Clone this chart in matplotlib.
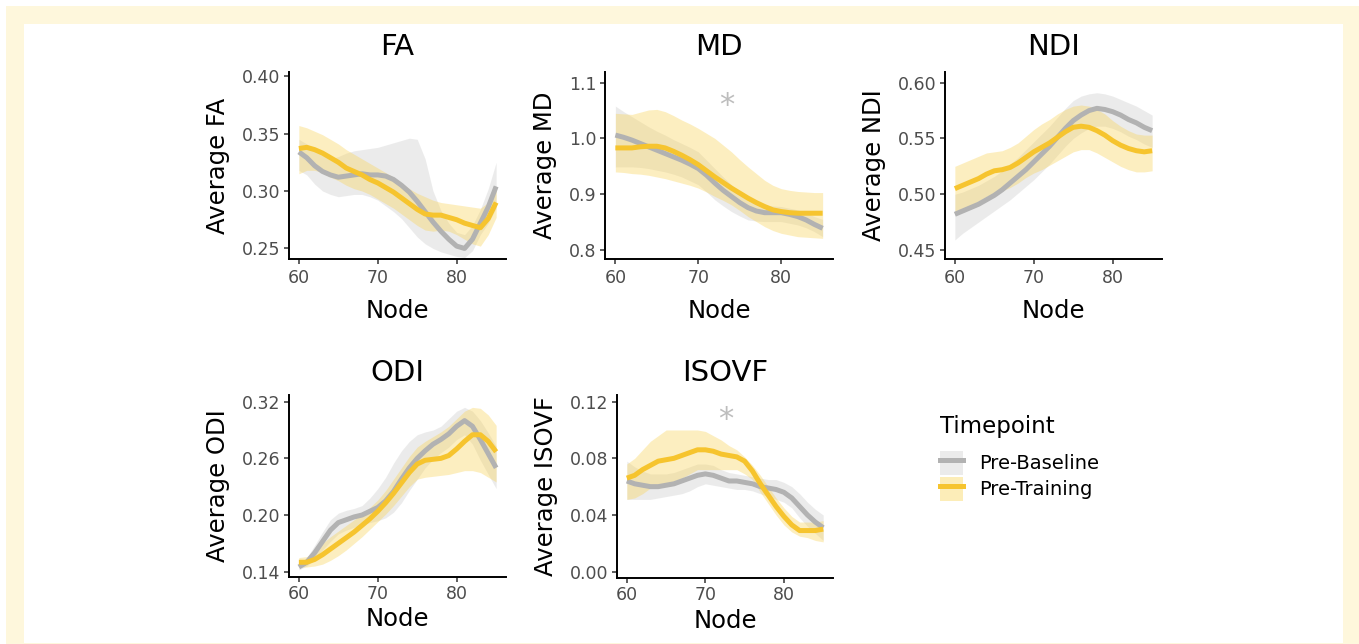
import numpy as np
import matplotlib
matplotlib.use("Agg")
import matplotlib.pyplot as plt
from matplotlib.patches import Rectangle, Patch
from matplotlib.lines import Line2D
from matplotlib.legend_handler import HandlerTuple

plt.rcParams['font.family'] = ['DejaVu Sans']

nodes = list(range(60, 86))

# FA
fa_base = [.334, .329, .322, .317, .314, .312, .313, .314, .315, .314, .314, .313, .310,
           .305, .299, .291, .282, .273, .265, .258, .252, .250, .258, .272, .286, .304]
fa_base_hi = [.345, .341, .336, .331, .328, .330, .333, .335, .336, .337, .338, .340, .342,
              .344, .346, .345, .328, .300, .283, .272, .264, .262, .270, .284, .302, .325]
fa_base_lo = [.318, .314, .306, .300, .297, .295, .296, .297, .297, .295, .292, .287, .282,
              .276, .268, .260, .254, .250, .247, .245, .243, .242, .248, .262, .272, .285]
fa_train = [.337, .338, .336, .333, .329, .325, .320, .317, .314, .310, .307, .303, .299,
            .294, .289, .284, .280, .279, .279, .277, .275, .272, .270, .268, .276, .290]
fa_train_hi = [.357, .355, .352, .349, .345, .341, .336, .332, .328, .324, .320, .316, .312,
               .307, .302, .298, .295, .292, .290, .289, .288, .287, .286, .285, .290, .303]
fa_train_lo = [.315, .318, .318, .316, .312, .309, .305, .302, .300, .297, .293, .289, .285,
               .280, .275, .270, .266, .265, .266, .265, .262, .258, .254, .252, .262, .277]

# MD
md_base = [1.006, 1.002, .997, .991, .985, .979, .973, .967, .961, .954, .946, .934, .920,
           .907, .896, .885, .876, .870, .867, .867, .867, .864, .860, .854, .846, .839]
md_base_hi = [1.058, 1.048, 1.039, 1.030, 1.021, 1.013, 1.006, .998, .991, .984, .976, .961, .946,
              .931, .917, .904, .893, .886, .881, .879, .878, .875, .872, .867, .860, .855]
md_base_lo = [.949, .949, .949, .948, .946, .943, .940, .936, .931, .924, .917, .904, .890,
              .879, .869, .861, .854, .852, .851, .851, .851, .848, .845, .840, .833, .824]
md_train = [.983, .983, .983, .985, .986, .986, .983, .977, .970, .962, .953, .942, .931,
            .921, .911, .902, .893, .885, .878, .872, .869, .867, .866, .866, .866, .866]
md_train_hi = [1.045, 1.044, 1.043, 1.047, 1.051, 1.052, 1.048, 1.041, 1.033, 1.026, 1.018, 1.009, 1.000,
               .988, .976, .962, .949, .937, .925, .916, .910, .907, .905, .904, .903, .903]
md_train_lo = [.940, .939, .937, .936, .934, .931, .928, .924, .920, .916, .911, .904, .896,
               .889, .881, .871, .860, .851, .842, .835, .830, .827, .824, .823, .822, .821]

# NDI
ndi_base = [.482, .485, .488, .491, .495, .499, .504, .510, .516, .522, .529, .536, .543,
            .551, .559, .566, .571, .575, .577, .576, .574, .571, .567, .564, .560, .557]
ndi_base_hi = [.500, .502, .505, .508, .512, .516, .521, .527, .533, .540, .547, .554, .561,
               .569, .577, .584, .588, .590, .591, .590, .588, .585, .582, .579, .575, .571]
ndi_base_lo = [.459, .465, .470, .475, .480, .485, .490, .495, .501, .507, .513, .520, .527,
               .535, .543, .550, .555, .559, .561, .561, .559, .556, .552, .549, .545, .542]
ndi_train = [.505, .508, .511, .514, .518, .521, .522, .524, .528, .533, .538, .542, .546,
             .551, .556, .560, .561, .560, .557, .553, .548, .544, .541, .539, .538, .539]
ndi_train_hi = [.525, .528, .531, .534, .537, .538, .539, .542, .546, .552, .558, .563, .567,
                .572, .576, .579, .580, .579, .576, .572, .566, .561, .557, .554, .553, .553]
ndi_train_lo = [.484, .487, .490, .494, .498, .501, .503, .506, .510, .515, .519, .522, .526,
                .530, .534, .538, .540, .540, .537, .533, .529, .525, .522, .520, .520, .521]

# ODI
odi_base = [.145, .150, .160, .172, .184, .192, .195, .198, .200, .204, .208, .215, .225,
            .238, .250, .260, .268, .275, .280, .286, .294, .300, .294, .280, .265, .250]
odi_base_hi = [.148, .155, .168, .182, .195, .202, .205, .207, .210, .218, .228, .240, .255,
               .268, .278, .285, .288, .290, .294, .302, .310, .314, .310, .300, .287, .273]
odi_base_lo = [.142, .146, .153, .163, .172, .180, .184, .187, .190, .192, .194, .197, .203,
               .213, .226, .238, .250, .259, .266, .272, .280, .285, .275, .258, .243, .228]
odi_train = [.150, .150, .153, .158, .164, .170, .176, .182, .189, .196, .204, .213, .223,
             .234, .245, .254, .258, .259, .260, .263, .270, .278, .285, .285, .278, .267]
odi_train_hi = [.155, .156, .162, .170, .177, .183, .189, .195, .201, .208, .216, .226, .238,
                .250, .262, .272, .278, .283, .288, .294, .302, .310, .314, .313, .306, .295]
odi_train_lo = [.145, .145, .146, .148, .152, .157, .163, .170, .177, .185, .193, .201, .210,
                .220, .230, .238, .240, .241, .242, .243, .245, .247, .247, .245, .240, .235]

# ISOVF
iso_base = [.064, .062, .061, .060, .060, .061, .062, .064, .066, .068, .069, .068, .066,
            .064, .064, .063, .062, .060, .059, .058, .056, .052, .046, .040, .035, .031]
iso_base_hi = [.078, .074, .071, .069, .069, .069, .070, .072, .074, .076, .076, .075, .072,
               .070, .069, .068, .067, .066, .065, .065, .063, .060, .055, .049, .044, .040]
iso_base_lo = [.051, .051, .051, .051, .052, .053, .054, .055, .057, .060, .062, .061, .060,
               .059, .058, .058, .057, .055, .053, .051, .049, .045, .038, .032, .027, .022]
iso_train = [.066, .068, .072, .075, .078, .079, .080, .082, .084, .086, .086, .085, .083,
             .082, .081, .078, .071, .062, .054, .046, .039, .033, .029, .029, .029, .030]
iso_train_hi = [.076, .080, .086, .092, .096, .100, .100, .100, .100, .100, .099, .096, .093,
                .089, .086, .081, .075, .068, .060, .052, .045, .039, .035, .035, .035, .036]
iso_train_lo = [.051, .052, .055, .059, .061, .062, .064, .066, .069, .072, .072, .072, .072,
                .072, .072, .069, .065, .056, .048, .040, .033, .028, .025, .024, .022, .021]

panels = [
    ("FA", fa_base, fa_base_lo, fa_base_hi, fa_train, fa_train_lo, fa_train_hi),
    ("MD", md_base, md_base_lo, md_base_hi, md_train, md_train_lo, md_train_hi),
    ("NDI", ndi_base, ndi_base_lo, ndi_base_hi, ndi_train, ndi_train_lo, ndi_train_hi),
    ("ODI", odi_base, odi_base_lo, odi_base_hi, odi_train, odi_train_lo, odi_train_hi),
    ("ISOVF", iso_base, iso_base_lo, iso_base_hi, iso_train, iso_train_lo, iso_train_hi),
]
yticks = {
    "FA": ([0.25, 0.30, 0.35, 0.40], ["0.25", "0.30", "0.35", "0.40"]),
    "MD": ([0.8, 0.9, 1.0, 1.1], ["0.8", "0.9", "1.0", "1.1"]),
    "NDI": ([0.45, 0.50, 0.55, 0.60], ["0.45", "0.50", "0.55", "0.60"]),
    "ODI": ([0.14, 0.20, 0.26, 0.32], ["0.14", "0.20", "0.26", "0.32"]),
    "ISOVF": ([0.00, 0.04, 0.08, 0.12], ["0.00", "0.04", "0.08", "0.12"]),
}
ylims = {"FA": (0.2408, 0.4036), "MD": (0.784, 1.119), "NDI": (0.4419, 0.6096),
         "ODI": (0.1344, 0.3271), "ISOVF": (-0.0045, 0.1247)}
# significance markers (node, value)
stars = {"MD": (73.4, 1.073), "ISOVF": (72.6, 0.113)}
xticks = [60, 70, 80]
groups = ["Pre-Baseline", "Pre-Training"]

# pixel boxes: left, top, right, bottom
boxes = {"FA": (289, 72, 506, 259), "MD": (605, 72, 833, 259), "NDI": (945, 72, 1162, 259),
         "ODI": (289, 395, 506, 577), "ISOVF": (617, 395, 833, 578)}

W, H = 1359, 644
grey_line = "#B2B2B2"
grey_fill = "#C8C8C8"
gold_line = "#F6C42E"
gold_fill = "#F9D45A"

fig = plt.figure(figsize=(W / 100, H / 100), dpi=100)
fig.patch.set_facecolor("white")
fig.patches.append(Rectangle((6 / W, 0), 1353 / W, 638 / H, transform=fig.transFigure,
                             facecolor="#FEF7DC", edgecolor="none", zorder=-10))
fig.patches.append(Rectangle((24 / W, 1 / H), 1319 / W, 619 / H, transform=fig.transFigure,
                             facecolor="white", edgecolor="none", zorder=-9))

for name, b, blo, bhi, t, tlo, thi in panels:
    l, tp, r, bt = boxes[name]
    top_row = tp < 200
    ax = fig.add_axes([l / W, 1 - bt / H, (r - l) / W, (bt - tp) / H])
    ax.patch.set_alpha(0)
    ax.fill_between(nodes, blo, bhi, color=grey_fill, alpha=0.35, lw=0)
    ax.plot(nodes, b, color=grey_line, lw=3.6, solid_capstyle="butt")
    ax.fill_between(nodes, tlo, thi, color=gold_fill, alpha=0.38, lw=0)
    ax.plot(nodes, t, color=gold_line, lw=3.6, solid_capstyle="butt")
    ax.set_xlim(58.75, 86.25)
    ax.set_ylim(*ylims[name])
    ax.set_xticks(xticks)
    ax.set_yticks(yticks[name][0])
    ax.set_yticklabels(yticks[name][1])
    for s in ["top", "right"]:
        ax.spines[s].set_visible(False)
    for s in ["left", "bottom"]:
        ax.spines[s].set_linewidth(1.4)
        ax.spines[s].set_color("black")
    ax.tick_params(length=3.5, width=1.1, color="#333333", labelcolor="#4D4D4D",
                   labelsize=12.5, pad=2.5)
    ax.tick_params(axis="x", pad=4 if top_row else 2.5)
    ax.set_title(name, fontsize=21, pad=12 if top_row else 10)
    ax.set_xlabel("Node", fontsize=17.5, labelpad=8 if top_row else 3)
    ax.set_ylabel("Average " + name, fontsize=17.5, labelpad=9)
    if name in stars:
        ax.annotate("*", xy=stars[name], xytext=(0, -12), textcoords="offset points",
                    ha="center", va="baseline", fontsize=22, color="#BDBDBD")

fig.text(940 / W, 1 - 426 / H, "Timepoint", fontsize=16.5, ha="left", va="center")
handles = [
    (Patch(facecolor="#EBEBEB", edgecolor="none"), Line2D([], [], color=grey_line, lw=3.6)),
    (Patch(facecolor="#FCEDB8", edgecolor="none"), Line2D([], [], color=gold_line, lw=3.6)),
]
fig.legend(handles, groups,
           handler_map={tuple: HandlerTuple(ndivide=1, pad=0)},
           loc="upper left", bbox_to_anchor=(940 / W, 1 - 451 / H),
           frameon=False, fontsize=14,
           handlelength=1.2, handleheight=1.5, handletextpad=0.8, labelspacing=0.12,
           borderpad=0, borderaxespad=0)

fig.savefig("out.png", dpi=100)
